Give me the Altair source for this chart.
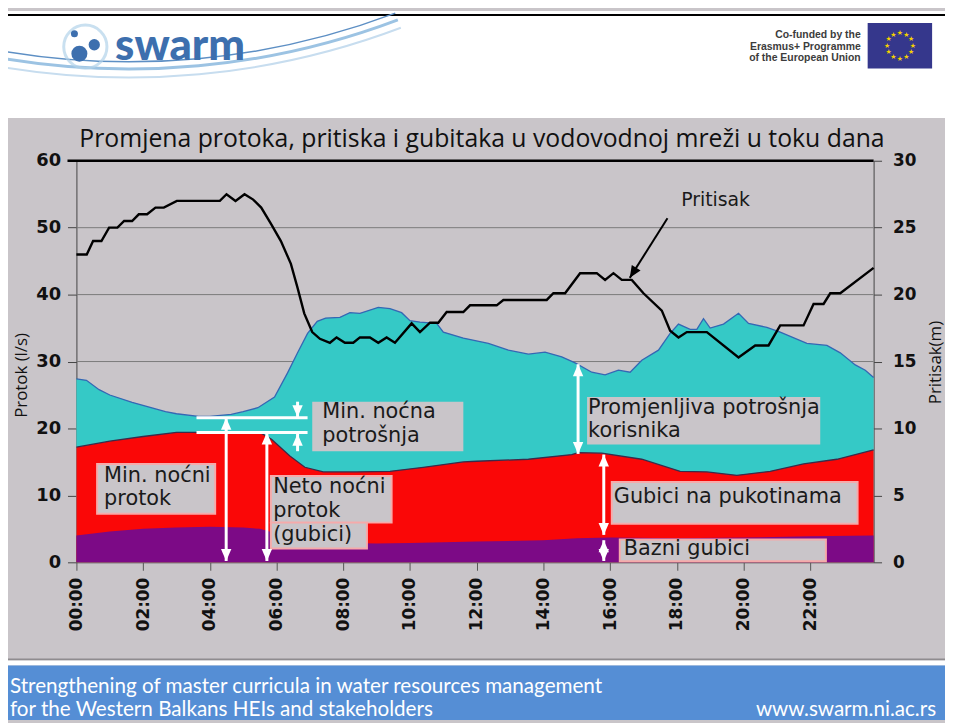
import json
import math
import altair as alt
import pandas as pd

# ---------------- data ----------------
# total flow (cyan area top), l/s
total_hours = [0, 0.3, 0.68, 1.0, 1.67, 2.67, 3.0, 3.66, 4.0, 4.64, 5.0, 5.44, 5.94, 6.33, 6.63, 6.93,
               7.22, 7.47, 7.9, 8.2, 8.5, 9.05, 9.4, 9.75, 10.0, 10.3, 10.8, 11.0, 11.6, 12.35, 12.95,
               13.55, 14.05, 14.55, 14.95, 15.45, 15.85, 16.25, 16.6, 16.95, 17.45, 17.8, 18.05, 18.4,
               18.6, 18.8, 19.0, 19.4, 19.85, 20.15, 20.7, 21.1, 21.9, 22.5, 22.9, 23.35, 23.65, 23.9]
total_flow = [27.4, 27.2, 25.8, 25.0, 23.9, 22.5, 22.2, 21.8, 21.8, 22.1, 22.5, 23.1, 24.7, 28.3, 31.3, 34.2,
              36.0, 36.5, 36.6, 37.3, 37.2, 38.1, 37.9, 37.3, 36.1, 35.9, 35.7, 34.4, 33.5, 32.7, 31.7,
              31.1, 31.4, 30.7, 29.8, 28.4, 28.0, 28.7, 28.4, 30.2, 31.7, 34.2, 35.6, 34.8,
              34.8, 36.4, 35.0, 35.6, 37.2, 35.7, 35.1, 34.4, 32.7, 32.4, 31.3, 29.5, 28.7, 27.6]

# base + burst losses (red area top), l/s
leak_hours = [0, 1, 2, 3, 5.5, 5.85, 6.4, 6.85, 7.4, 8.4, 9.4, 10.4, 11.6, 12.0, 13.55, 14.85, 15.05,
              15.75, 16.95, 18.1, 18.9, 19.8, 20.8, 21.8, 22.8, 23.9]
leak_flow = [17.2, 18.1, 18.8, 19.4, 19.4, 18.4, 15.9, 14.2, 13.5, 13.5, 13.6, 14.2, 15.0, 15.1, 15.4, 16.1, 16.4,
             16.3, 15.4, 13.6, 13.5, 13.0, 13.6, 14.7, 15.4, 16.8]

# base losses (purple area top), l/s
base_hours = [0, 1, 2, 3, 4, 5, 5.5, 6.2, 7, 8, 9, 10, 12, 14, 15, 16, 18, 20, 22, 23.9]
base_flow = [4.0, 4.6, 5.0, 5.2, 5.3, 5.2, 5.0, 4.0, 3.3, 2.9, 2.8, 2.9, 3.1, 3.3, 3.6, 3.7, 3.6, 3.7, 3.9, 4.0]

# pressure (right axis), m
press_hours = [0, 0.31, 0.5, 0.75, 0.98, 1.23, 1.43, 1.67, 1.87, 2.12, 2.37, 2.62, 3.01, 4.3, 4.5, 4.77,
               5.04, 5.3, 5.54, 5.83, 6.13, 6.43, 6.63, 6.83, 7.07, 7.3, 7.6, 7.8, 8.05, 8.3, 8.5, 8.8,
               9.05, 9.3, 9.55, 10.05, 10.3, 10.6, 10.85, 11.1, 11.6, 11.8, 12.6, 12.8, 14.1, 14.3,
               14.65, 15.1, 15.6, 15.85, 16.1, 16.35, 16.65, 17.0, 17.55, 17.8, 18.05, 18.3, 18.9,
               19.85, 20.35, 20.75, 21.1, 21.8, 22.1, 22.4, 22.6, 22.9, 23.9]
pressure = [23.0, 23.0, 24.0, 24.0, 25.0, 25.0, 25.5, 25.5, 26.0, 26.0, 26.5, 26.5, 27.0, 27.0, 27.5, 27.0,
            27.5, 27.1, 26.5, 25.3, 24.0, 22.3, 20.5, 18.6, 17.2, 16.7, 16.4, 16.8, 16.4, 16.4, 16.8, 16.8,
            16.4, 16.8, 16.4, 17.85, 17.2, 17.9, 17.9, 18.7, 18.7, 19.2, 19.2, 19.6, 19.6, 20.1,
            20.1, 21.6, 21.6, 21.1, 21.6, 21.1, 21.1, 20.1, 18.8, 17.3, 16.8, 17.2, 17.2,
            15.3, 16.2, 16.2, 17.7, 17.7, 19.3, 19.3, 20.1, 20.1, 22.0]

x_tick_hours = [0, 2, 4, 6, 8, 10, 12, 14, 16, 18, 20, 22]
x_tick_labels = ["00:00", "02:00", "04:00", "06:00", "08:00", "10:00", "12:00", "14:00",
                 "16:00", "18:00", "20:00", "22:00"]
y_ticks_left = [0, 10, 20, 30, 40, 50, 60]
y_ticks_right = [0, 5, 10, 15, 20, 25, 30]
grid_values = [10, 20, 30, 40, 50]

title_text = "Promjena protoka, pritiska i gubitaka u vodovodnoj mreži u toku dana"
left_title = "Protok (l/s)"
right_title = "Pritisak(m)"

# annotation boxes: h0, h1, q_top, q_bottom
boxes_cyan = {"h0": [7.07, 15.31], "h1": [11.6, 22.3], "q0": [24.0, 24.7], "q1": [16.6, 17.6]}
boxes_red = {"h0": [0.62, 5.83, 5.83, 16.05, 16.29], "h1": [4.16, 9.45, 8.71, 23.42, 22.47],
             "q0": [14.7, 12.9, 5.93, 12.0, 3.4], "q1": [7.26, 5.93, 2.07, 5.78, 0.15]}
label_text = ["Min. noćna", "potrošnja", "Min. noćni", "protok", "Neto noćni", "protok", "(gubici)",
              "Promjenljiva potrošnja", "korisnika", "Gubici na pukotinama", "Bazni gubici"]
label_h = [7.37, 7.37, 0.83, 0.83, 5.9, 5.9, 5.9, 15.34, 15.34, 16.11, 16.41]
label_q = [22.5, 18.9, 12.9, 9.5, 11.3, 7.6, 4.0, 23.1, 19.6, 9.8, 2.0]

# white dimension arrows
varrow_h = [4.49, 5.71, 15.04, 15.81, 15.81, 6.63, 6.63]
varrow_q0 = [0.2, 0.2, 16.2, 4.1, 0.2, 24.0, 16.6]
varrow_q1 = [21.6, 19.4, 29.6, 16.1, 3.3, 21.7, 19.2]
head_h = [4.49, 4.49, 5.71, 5.71, 15.04, 15.04, 15.81, 15.81, 15.81, 15.81, 6.63, 6.63]
head_q = [21.6, 0.2, 19.4, 0.2, 29.6, 16.2, 16.1, 4.1, 3.3, 0.2, 21.7, 19.2]
head_dir = [0, 180, 0, 180, 0, 180, 0, 180, 0, 180, 180, 0]
harrow_h0 = [3.6, 3.6]
harrow_h1 = [6.93, 6.93]
harrow_q = [21.6, 19.4]

press_label = "Pritisak"
press_label_h, press_label_q = 18.13, 54.2
press_arrow = {"h0": 17.72, "q0": 51.4, "h1": 16.59, "q1": 42.5}

# ---------------- layout ----------------
W, H = 804, 405
X_MAX = 23.9
OX, OY = 77, 159          # plot origin in page pixels
GREY = "#c9c5c9"
CYAN = "#35c9c6"
RED = "#fa0707"
PURPLE = "#7c0a86"

xs = alt.Scale(domain=[0, X_MAX], nice=False, zero=False)
ys = alt.Scale(domain=[0, 60], nice=False)
ps = alt.Scale(domain=[0, 30], nice=False)


def px(a):
    return a - OX


def py(a):
    return a - OY


one = pd.DataFrame({"k": [0]})


def rect(x0, y0, x1, y1, **kw):
    return alt.Chart(one).mark_rect(**kw).encode(
        x=alt.value(px(x0)), x2=alt.value(px(x1)), y=alt.value(py(y0)), y2=alt.value(py(y1)))


def rule(x0, y0, x1, y1, **kw):
    return alt.Chart(one).mark_rule(**kw).encode(
        x=alt.value(px(x0)), x2=alt.value(px(x1)), y=alt.value(py(y0)), y2=alt.value(py(y1)))


def text(s, x, y, **kw):
    return alt.Chart(one).mark_text(**kw).encode(
        x=alt.value(px(x)), y=alt.value(py(y)), text=alt.value(s))


x_label_expr = ("[" + ",".join("'%s'" % s for s in x_tick_labels) + "][indexof("
                + json.dumps(x_tick_hours) + ", datum.value)]")
x_axis = alt.Axis(values=x_tick_hours, labelExpr=x_label_expr, labelAngle=270, labelAlign="right",
                  labelBaseline="middle", labelFont="DejaVu Sans", labelFontWeight="bold",
                  labelFontSize=17, labelColor="#111111", labelPadding=7, tickSize=8,
                  tickColor="#555555", domainColor="#555555", grid=False, title="")
yl_axis = alt.Axis(values=y_ticks_left, labelFont="DejaVu Sans", labelFontWeight="bold",
                   labelFontSize=18, labelColor="#111111", labelPadding=7, tickSize=9,
                   tickColor="#444444", domainColor="#444444", grid=False, title=left_title,
                   titleFont="Open Sans", titleFontSize=17, titleFontWeight="normal",
                   titleColor="#111111", titleAngle=270, titleX=-55, titleY=216,
                   titleAlign="center", titleBaseline="middle")
yr_axis = alt.Axis(orient="right", values=y_ticks_right, labelFont="DejaVu Sans",
                   labelFontWeight="bold", labelFontSize=17, labelColor="#111111", labelPadding=11,
                   tickSize=8, tickColor="#444444", domainColor="#444444", grid=False,
                   title=right_title, titleFont="Open Sans", titleFontSize=17,
                   titleFontWeight="normal", titleColor="#111111", titleAngle=270, titleX=62,
                   titleY=203, titleAlign="center", titleBaseline="middle")

# ---------------- decorations (slide) ----------------
deco = [
    rect(8, 8, 953, 116, color="white"),
    rule(8, 12, 953, 12, color="black", strokeWidth=2),
]
# swoosh
for r, col, th in [(768, "#9cc3e3", 3), (776, "#c7ddef", 2), (760, "#5d8fc4", 1.5)]:
    deco.append(alt.Chart(one).mark_arc(color=col).encode(
        x=alt.value(px(130)), y=alt.value(py(-700)), theta=alt.value(2.78), theta2=alt.value(3.32),
        radius=alt.value(r), radius2=alt.value(r - th)))
deco += [
    alt.Chart(one).mark_point(shape="circle", filled=False, color="#b3d3ea", strokeWidth=3,
                              size=1900).encode(x=alt.value(px(86)), y=alt.value(py(44))),
    alt.Chart(one).mark_point(shape="circle", filled=True, color="#3d6fae", opacity=1,
                              size=260).encode(x=alt.value(px(80)), y=alt.value(py(51))),
    alt.Chart(one).mark_point(shape="circle", filled=True, color="#3d6fae", opacity=1,
                              size=130).encode(x=alt.value(px(95)), y=alt.value(py(42))),
    alt.Chart(one).mark_point(shape="circle", filled=True, color="#3d6fae", opacity=1,
                              size=50).encode(x=alt.value(px(75)), y=alt.value(py(31))),
    text("swarm", 116, 44, font="Lato", fontWeight=900, fontSize=44, color="#3d6fae",
         align="left", baseline="middle"),
    text("Co-funded by the", 868, 32, font="Liberation Sans", fontWeight="bold", fontSize=10.5,
         color="#3c3c3c", align="right", baseline="middle"),
    text("Erasmus+ Programme", 868, 44, font="Liberation Sans", fontWeight="bold", fontSize=10.5,
         color="#3c3c3c", align="right", baseline="middle"),
    text("of the European Union", 868, 55, font="Liberation Sans", fontWeight="bold",
         fontSize=10.5, color="#3c3c3c", align="right", baseline="middle"),
    rect(875, 20, 940, 66, color="#35378c"),
]
for k in range(12):
    a = k * math.pi / 6
    deco.append(text("★", 907.5 + 13 * math.sin(a), 43 - 13 * math.cos(a), font="DejaVu Sans",
                     fontSize=7, color="#f4d000", align="center", baseline="middle"))
deco += [
    text(title_text, 486, 137, font="Open Sans", fontSize=25, color="#111111",
         align="center", baseline="middle"),
    rule(8, 662, 953, 662, color="#8f8c8f", strokeWidth=2),
    rect(8, 663, 953, 668, color="white"),
    rect(8, 668, 953, 723, color="#558ed5"),
    text("Strengthening of master curricula in water resources  management", 10, 690,
         font="Lato", fontSize=20.8, color="white", align="left", baseline="middle"),
    text("for the Western Balkans HEIs and stakeholders", 10, 713,
         font="Lato", fontSize=20.8, color="white", align="left", baseline="middle"),
    text("www.swarm.ni.ac.rs", 944, 713, font="Lato", fontSize=20.8,
         color="white", align="right", baseline="middle"),
]

# ---------------- chart layers ----------------
df_total = pd.DataFrame({"h": total_hours, "q": total_flow})
df_leak = pd.DataFrame({"h": leak_hours, "q": leak_flow})
df_base = pd.DataFrame({"h": base_hours, "q": base_flow})
df_press = pd.DataFrame({"h": press_hours, "p": pressure})

grid = alt.Chart(pd.DataFrame({"q": grid_values})).mark_rule(color="#7a7a7a", strokeWidth=1).encode(
    y=alt.Y("q:Q", scale=ys), x=alt.value(0), x2=alt.value(W))
top_line = alt.Chart(pd.DataFrame({"q": [60]})).mark_rule(color="black", strokeWidth=2.5).encode(
    y=alt.Y("q:Q", scale=ys), x=alt.value(-9), x2=alt.value(W))

area_total = alt.Chart(df_total).mark_area(color=CYAN, opacity=1).encode(
    x=alt.X("h:Q", scale=xs, axis=x_axis), y=alt.Y("q:Q", scale=ys, axis=yl_axis))
edge_total = alt.Chart(df_total).mark_line(color="#3467b4", strokeWidth=1.3).encode(
    x=alt.X("h:Q", scale=xs), y=alt.Y("q:Q", scale=ys))
area_leak = alt.Chart(df_leak).mark_area(color=RED, opacity=1).encode(
    x=alt.X("h:Q", scale=xs), y=alt.Y("q:Q", scale=ys))
edge_leak = alt.Chart(df_leak).mark_line(color="#3b2a4a", strokeWidth=1.3).encode(
    x=alt.X("h:Q", scale=xs), y=alt.Y("q:Q", scale=ys))
area_base = alt.Chart(df_base).mark_area(color=PURPLE, opacity=1).encode(
    x=alt.X("h:Q", scale=xs), y=alt.Y("q:Q", scale=ys))

box_c = alt.Chart(pd.DataFrame(boxes_cyan)).mark_rect(color=GREY, opacity=1).encode(
    x=alt.X("h0:Q", scale=xs), x2="h1:Q", y=alt.Y("q0:Q", scale=ys), y2="q1:Q")
box_r = alt.Chart(pd.DataFrame(boxes_red)).mark_rect(fill=GREY, stroke="#f6aaaa", strokeWidth=2,
                                                     opacity=1).encode(
    x=alt.X("h0:Q", scale=xs), x2="h1:Q", y=alt.Y("q0:Q", scale=ys), y2="q1:Q")
labels = alt.Chart(pd.DataFrame({"h": label_h, "q": label_q, "t": label_text})).mark_text(
    font="DejaVu Sans", fontSize=21, color="#1a1a1a", align="left", baseline="middle").encode(
    x=alt.X("h:Q", scale=xs), y=alt.Y("q:Q", scale=ys), text="t:N")

varrows = alt.Chart(pd.DataFrame({"h": varrow_h, "q0": varrow_q0, "q1": varrow_q1})).mark_rule(
    color="white", strokeWidth=3).encode(
    x=alt.X("h:Q", scale=xs), y=alt.Y("q0:Q", scale=ys), y2="q1:Q")
harrows = alt.Chart(pd.DataFrame({"h0": harrow_h0, "h1": harrow_h1, "q": harrow_q})).mark_rule(
    color="white", strokeWidth=3).encode(
    x=alt.X("h0:Q", scale=xs), x2="h1:Q", y=alt.Y("q:Q", scale=ys))
HEAD = "M0,0L-1,2.3L1,2.3Z"
heads = alt.Chart(pd.DataFrame({"h": head_h, "q": head_q, "a": head_dir})).mark_point(
    shape=HEAD, filled=True, color="white", opacity=1, size=110).encode(
    x=alt.X("h:Q", scale=xs), y=alt.Y("q:Q", scale=ys), angle=alt.Angle("a:Q", scale=None))

p_label = alt.Chart(pd.DataFrame({"h": [press_label_h], "q": [press_label_q],
                                  "t": [press_label]})).mark_text(
    font="DejaVu Sans", fontSize=19, color="#1a1a1a", align="left", baseline="middle").encode(
    x=alt.X("h:Q", scale=xs), y=alt.Y("q:Q", scale=ys), text="t:N")
pa = press_arrow
p_arrow = alt.Chart(pd.DataFrame({k: [v] for k, v in pa.items()})).mark_rule(
    color="black", strokeWidth=2).encode(
    x=alt.X("h0:Q", scale=xs), x2="h1:Q", y=alt.Y("q0:Q", scale=ys), y2="q1:Q")
dxp = (pa["h1"] - pa["h0"]) * W / X_MAX
dyp = (pa["q0"] - pa["q1"]) * H / 60
ang = math.degrees(math.atan2(dxp, -dyp)) % 360
p_head = alt.Chart(pd.DataFrame({"h": [pa["h1"]], "q": [pa["q1"]], "a": [ang]})).mark_point(
    shape=HEAD, filled=True, color="black", opacity=1, size=110).encode(
    x=alt.X("h:Q", scale=xs), y=alt.Y("q:Q", scale=ys), angle=alt.Angle("a:Q", scale=None))

inner = alt.layer(*deco, grid, area_total, edge_total, area_leak, edge_leak, area_base, top_line,
                  box_c, box_r, labels, varrows, harrows, heads, p_label, p_arrow, p_head)

press_line = alt.Chart(df_press).mark_line(color="black", strokeWidth=2.4).encode(
    x=alt.X("h:Q", scale=xs, axis=x_axis), y=alt.Y("p:Q", scale=ps, axis=yr_axis))

chart = alt.layer(inner, press_line).resolve_scale(y="independent").properties(
    width=W, height=H,
    padding={"left": 69, "top": 151, "right": 72, "bottom": 159},
    autosize=alt.AutoSizeParams(type="none"),
    background=GREY,
).configure_view(strokeWidth=0)

chart.save("out.html", embed_options={"renderer": "svg", "actions": False})
